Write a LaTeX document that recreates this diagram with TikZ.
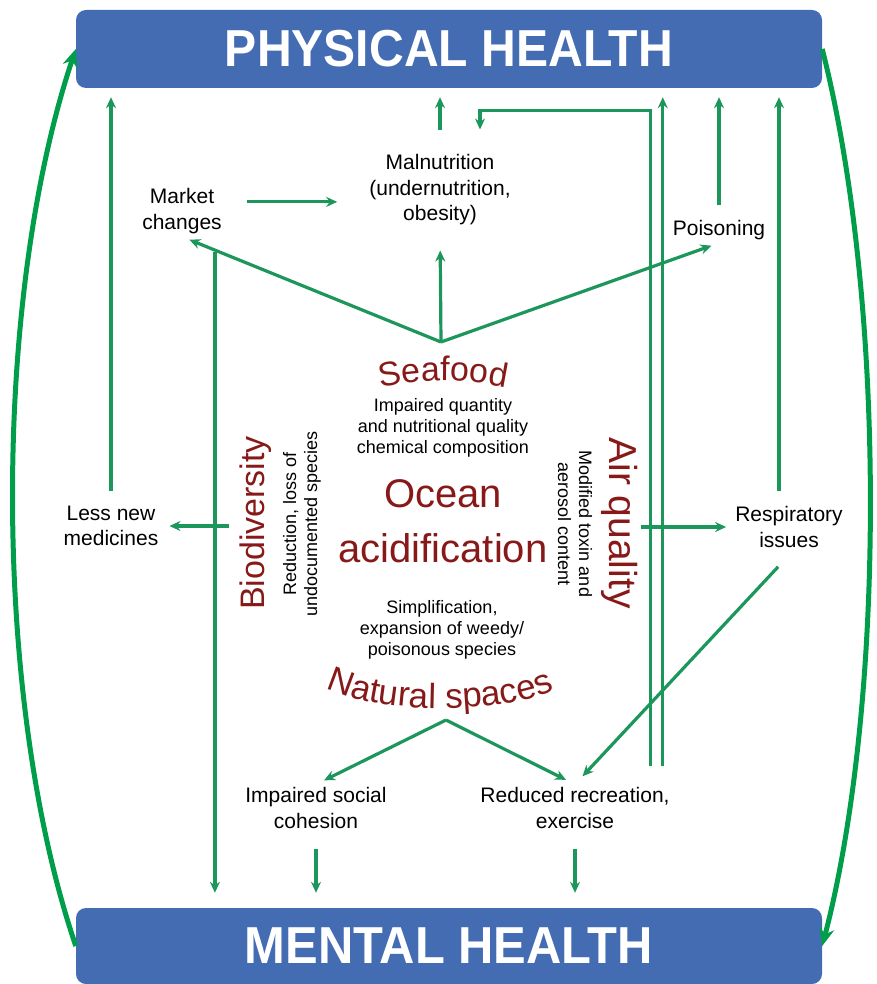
\documentclass[tikz,border=0pt]{standalone}
\usepackage{fontspec}
\setmainfont{Liberation Sans}
\usepackage{graphicx}
\usepackage{xcolor}
\usepackage{tikz}
\usetikzlibrary{arrows.meta,decorations.text}

\definecolor{boxblue}{RGB}{68,108,178}
\definecolor{linkgreen}{RGB}{28,150,90}
\definecolor{loopgreen}{RGB}{0,158,75}
\definecolor{ocred}{RGB}{135,25,25}

\newcommand{\bodyfont}{\fontsize{21}{25.5}\selectfont}
\newcommand{\notefont}{\fontsize{18}{21}\selectfont}

\begin{document}
\begin{tikzpicture}[x=1pt, y=-1pt,
  healthbox/.style={fill=boxblue, rounded corners=10pt, minimum width=746pt, text=white, font=\bfseries\fontsize{52}{52}\selectfont},
  effect/.style={align=center, inner sep=3pt, font=\bodyfont},
  subtext/.style={align=center, inner sep=3pt, font=\notefont},
  topic/.style={text=ocred, inner sep=3pt},
  conn/.style={draw=linkgreen, line width=3.2pt, -{Stealth[length=11pt,width=10pt]}},
  bigloop/.style={draw=loopgreen, line width=5pt, -{Stealth[length=18pt,width=15pt]}}]

\useasboundingbox (0,0) rectangle (876,984);

% Health boxes
\node[healthbox, minimum height=78pt] (ph) at (449,49) {\scalebox{0.925}[1]{PHYSICAL HEALTH}};
\node[healthbox, minimum height=76pt] (mh) at (449,946) {\scalebox{0.94}[1]{MENTAL HEALTH}};

% Effects
\node[effect] (market) at (182,211) {Market\\changes};
\node[effect] (maln) at (440,190) {Malnutrition\\(undernutrition,\\obesity)};
\node[effect] (poison) at (719,230) {Poisoning};
\node[effect] (medic) at (111,526) {Less new\\medicines};
\node[effect] (resp) at (789,527) {Respiratory\\issues};
\node[effect] (social) at (316,808) {Impaired social\\cohesion};
\node[effect] (recr) at (575,808) {Reduced recreation,\\exercise};

% Ocean acidification and its four pathways
\node[topic, align=center, font=\fontsize{40}{55}\selectfont] (ocean) at (443,521) {Ocean\\acidification};
\node[subtext] (seafoodtxt) at (443,428) {Impaired quantity\\and nutritional quality\\chemical composition};
\node[subtext] (naturetxt) at (442,630) {Simplification,\\expansion of weedy/\\poisonous species};
\node[topic, rotate=90, font=\fontsize{34}{34}\selectfont] (bio) at (256,523) {Biodiversity};
\node[subtext, rotate=90] (biotxt) at (302,524) {Reduction, loss of\\undocumented species};
\node[topic, rotate=-90, font=\fontsize{39}{39}\selectfont] (air) at (620,523) {Air quality};
\node[subtext, rotate=-90] (airtxt) at (575,524) {Modified toxin and\\aerosol content};

\path[decorate, decoration={text along path, text align=center, text color=ocred,
  text={|\fontsize{34}{34}\selectfont|Seafood}}]
  (360,393) .. controls (410,377) and (476,377) .. (526,393);
\path[decorate, decoration={text along path, text align=center, text color=ocred,
  text={|\fontsize{35}{35}\selectfont|Natural spaces}}]
  (318,684) .. controls (368,716) and (512,716) .. (562,686);

% Line ends
\coordinate (sfhub) at (441,342);
\coordinate (nshub) at (446,720);
\coordinate (mkfoot) at ([xshift=-10pt,yshift=-15pt]market.south east);
\coordinate (respfoot) at ([xshift=-10pt,yshift=12pt]resp.north);
\coordinate (recfootA) at ([xshift=-22pt,yshift=18pt]recr.north east);
\coordinate (recfootB) at ([xshift=-10pt,yshift=18pt]recr.north east);

% Connections to physical health
\foreach \src in {medic.north, poison.north}
    \draw[conn, shorten <=12pt, shorten >=9pt] (\src) -- (\src |- ph.south);
\draw[conn, shorten <=22pt, shorten >=9pt] (maln.north) -- (maln.north |- ph.south);
\foreach \src in {respfoot, recfootB}
    \draw[conn, shorten >=9pt] (\src) -- (\src |- ph.south);
\draw[conn, shorten >=22pt] (recfootA) |- ([xshift=40pt,yshift=41pt]maln.north) -- ([xshift=40pt]maln.north);

% Seafood
\draw[conn, shorten >=8pt] (sfhub) -- (market.south);
\draw[conn, shorten >=22pt] (sfhub) -- (maln.south);
\draw[conn, shorten >=8pt] (sfhub) -- (poison.south);
\draw[conn, shorten <=22pt, shorten >=29pt] (market.12) -- (market.12 -| maln.west);
\draw[conn, shorten >=15pt] (mkfoot) -- (mkfoot |- mh.north);

% Biodiversity and air quality
\draw[conn, shorten <=8pt] (bio.north |- medic.east) -- ([xshift=8pt]medic.east);
\draw[conn, shorten >=6pt] (air.north |- resp.west) -- (resp.west);
\draw[conn, shorten <=22pt, shorten >=11pt] (resp.-80) -- (recr.north);

% Natural spaces
\draw[conn, shorten >=9pt] (nshub) -- (social.north);
\draw[conn, shorten >=10pt] (nshub) -- (recr.north);
\foreach \src in {social.south, recr.south}
    \draw[conn, shorten <=17pt, shorten >=15pt] (\src) -- (\src |- mh.north);

% Feedback between the two
\draw[bigloop] (mh.west) .. controls (-8,700) and (-8,300) .. (ph.west);
\draw[bigloop] (ph.east) .. controls (886,300) and (886,700) .. (mh.east);
\end{tikzpicture}
\end{document}
